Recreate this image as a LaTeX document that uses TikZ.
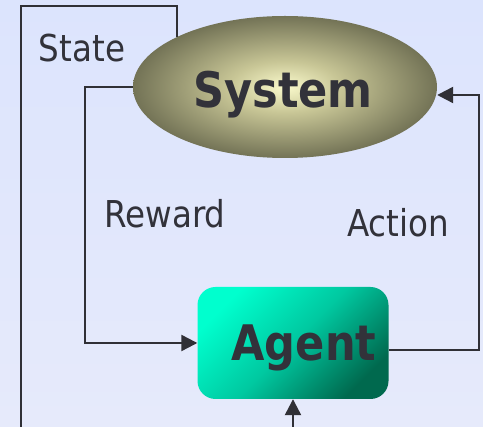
\documentclass[tikz,border=0pt]{standalone}
\usepackage{fontspec}
\setmainfont{DejaVu Sans}[FakeStretch=0.88]
\usetikzlibrary{arrows.meta,shapes.geometric,positioning}

\definecolor{bgtop}{RGB}{220,228,253}
\definecolor{bgbot}{RGB}{230,234,251}
\definecolor{linegray}{RGB}{48,48,54}
\definecolor{txtgray}{RGB}{50,50,58}
\definecolor{olivein}{RGB}{250,250,204}
\definecolor{olivemid}{RGB}{200,198,150}
\definecolor{oliveout}{RGB}{115,115,86}
\definecolor{aqua}{RGB}{0,255,206}
\definecolor{midteal}{RGB}{0,200,160}
\definecolor{deepteal}{RGB}{0,105,78}

\pgfdeclareradialshading{sysglow}{\pgfpoint{0bp}{0bp}}{%
  color(0bp)=(olivein); color(9bp)=(olivemid); color(25bp)=(oliveout); color(50bp)=(oliveout)}

\tikzset{
  flowline/.style={draw=linegray, line width=2.3pt},
  flow/.style={flowline, -{Triangle[length=16pt,width=16pt]}},
  lbl/.style={text=txtgray, anchor=base, font=\fontsize{37}{40}\selectfont},
  bigname/.style={text=txtgray, font=\fontsize{49}{52}\selectfont\bfseries},
}

\begin{document}
\begin{tikzpicture}[x=1pt,y=-1pt]
    % background, 483 x 427
    \shade[top color=bgtop, bottom color=bgbot] (0,0) rectangle (483,427);
    \useasboundingbox (0,0) rectangle (483,427);

    % the system
    \node[ellipse, minimum width=304pt, minimum height=142pt, inner sep=0pt,
          shading=sysglow] (system) at (285,87) {};
    \node[bigname, anchor=base] (systemtxt) at (283,108) {System};

    % the agent
    \node[rectangle, rounded corners=18pt, minimum width=191pt, minimum height=112pt,
          top color=aqua, bottom color=deepteal, middle color=midteal,
          shading angle=45] (agent) at (293,343) {};
    \node[bigname, anchor=base] (agenttxt) at (304,361) {Agent};

    % corners of the lines
    \coordinate (stcorner) at (21,6);
    \coordinate (stend) at (21,428);
    \coordinate (rwcorner) at (85,87);
    \coordinate (actcorner) at (479,200);
    \coordinate (inp) at (293,428);

    % State, out of the system
    \draw[flowline] (system.155) |- (stcorner) -- (stend);
    \node[lbl] (state) at (82,62) {State};

    % Reward, system to agent
    \draw[flow] (system.west) -- (rwcorner) |- (agent.west);
    \node[lbl] (reward) at (165,228) {Reward};

    % Action, agent to system
    \draw[flow] ([yshift=-7pt]agent.east) -| (actcorner) |- ([yshift=-8pt]system.east);
    \node[lbl] (action) at (398,237) {Action};

    % input from below
    \draw[flow] (inp) -- (agent.south);
\end{tikzpicture}
\end{document}
